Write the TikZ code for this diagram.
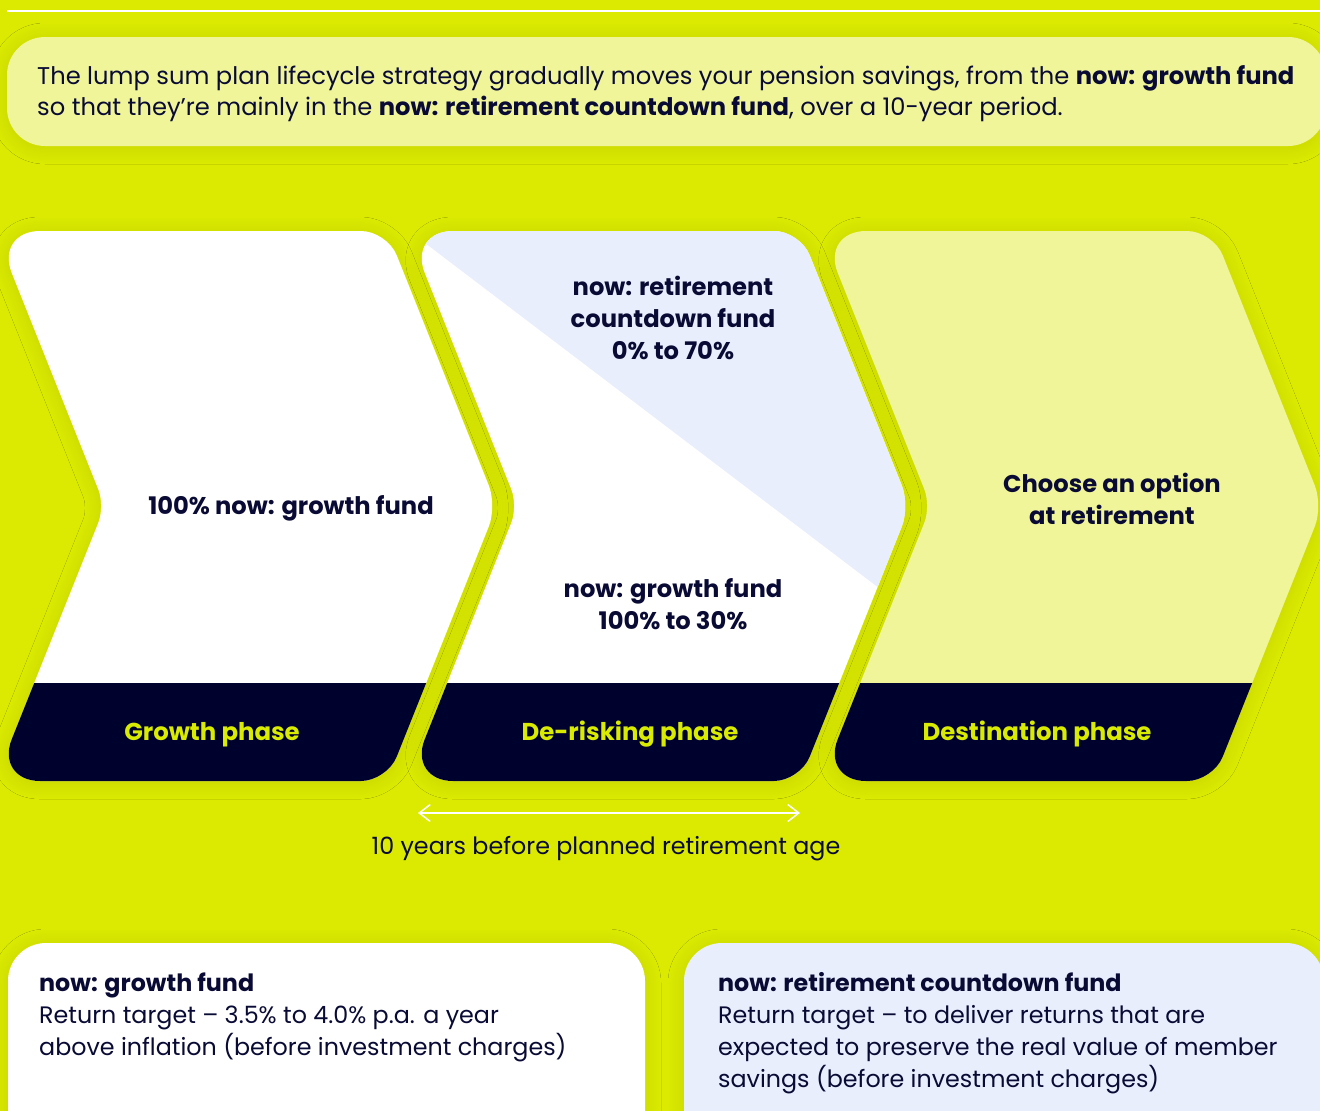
\documentclass[tikz,border=0pt]{standalone}
\usepackage{fontspec}
\setmainfont{Poppins}
\usetikzlibrary{calc,arrows.meta,shadows.blur}

\definecolor{bgLime}{HTML}{DBEA00}
\definecolor{paleLime}{HTML}{F0F599}
\definecolor{paleBlue}{HTML}{E8EEFC}
\definecolor{navy}{HTML}{00022E}
\definecolor{ink}{HTML}{0A0B35}
\definecolor{labelLime}{HTML}{D9EC00}

% corner points of one chevron: prefix, left x and right x of the top edge
\newcommand\chevcoords[3]{%
  \coordinate (#1tl) at (#2,231);
  \coordinate (#1tr) at (#3,231);
  \coordinate (#1tp) at (#3+110,506);
  \coordinate (#1br) at (#3,781);
  \coordinate (#1bl) at (#2,781);
  \coordinate (#1nt) at (#2+110,506);}

% one rounded corner: vertex, previous point, next point, radius
\newcommand\rcorner[4]{%
  -- ($(#1)!#4!(#2)$)
  .. controls ($($(#1)!#4!(#2)$)!0.55!(#1)$) and ($($(#1)!#4!(#3)$)!0.55!(#1)$)
  .. ($(#1)!#4!(#3)$)}

% outline of a chevron with individually rounded corners
\newcommand\chevpath[1]{%
  ($(#1tl)!45pt!(#1tr)$)
  \rcorner{#1tr}{#1tl}{#1tp}{26pt}
  \rcorner{#1tp}{#1tr}{#1br}{22pt}
  \rcorner{#1br}{#1tp}{#1bl}{26pt}
  \rcorner{#1bl}{#1br}{#1nt}{45pt}
  \rcorner{#1nt}{#1bl}{#1tl}{18pt}
  \rcorner{#1tl}{#1nt}{#1tr}{45pt} -- cycle}

\begin{document}
\begin{tikzpicture}[x=1pt,y=-1pt,
  softshadow/.style={blur shadow={shadow xshift=0pt,shadow yshift=-2pt,
      shadow blur radius=16pt,shadow opacity=9,shadow blur steps=30}},
  bodytext/.style={inner sep=0pt,text=ink,font=\fontsize{24.2}{30}\selectfont},
  cardtext/.style={inner sep=0pt,text=ink,font=\fontsize{23.8}{30}\selectfont},
  cardhead/.style={inner sep=0pt,text=ink,font=\fontsize{23.8}{30}\selectfont\bfseries},
  headtext/.style={inner sep=0pt,text=ink,font=\fontsize{24.2}{30}\selectfont\bfseries},
  phasetext/.style={inner sep=0pt,text=labelLime,font=\fontsize{24.4}{30}\selectfont\bfseries},
  span/.style={white,line width=1.5pt,
      {Straight Barb[length=11pt,width=17pt]}-{Straight Barb[length=11pt,width=17pt]}}]

\useasboundingbox (0,0) rectangle (1320,1111);
\clip (0,0) rectangle (1320,1111);
\fill[bgLime] (0,0) rectangle (1320,1111);
\draw[white,line width=1.2pt] (7,11) -- (1320,11);

% introduction panel
\fill[paleLime,rounded corners=38pt,softshadow] (7,37) rectangle (1326,146);
\node[bodytext,anchor=base west] (intro1) at (37,84)
  {The lump sum plan lifecycle strategy gradually moves your pension savings, from the \textbf{now: growth fund}};
\node[bodytext,anchor=base west] (intro2) at (37,115)
  {so that they’re mainly in the \textbf{now: retirement countdown fund}, over a 10-year period.};

% chevrons
\chevcoords{a}{-5}{387}
\chevcoords{b}{408}{800}
\chevcoords{c}{821}{1213}

\fill[white,softshadow] \chevpath{a};
\begin{scope}
  \clip \chevpath{a};
  \fill[navy] (-20,683) rectangle (520,800);
\end{scope}

\fill[white,softshadow] \chevpath{b};
\begin{scope}
  \clip \chevpath{b};
  \fill[paleBlue] (400,224) -- (1000,680) -- (1000,150) -- (400,150) -- cycle;
  \fill[navy] (390,683) rectangle (940,800);
\end{scope}

\fill[paleLime,softshadow] \chevpath{c};
\begin{scope}
  \clip \chevpath{c};
  \fill[navy] (800,683) rectangle (1340,800);
\end{scope}

% chevron texts
\node[headtext,anchor=base] (growthAll) at (291,514) {100\% now: growth fund};
\node[headtext,anchor=base] (rcf1) at (673,295) {now: retirement};
\node[headtext,anchor=base] (rcf2) at (673,327) {countdown fund};
\node[headtext,anchor=base] (rcf3) at (673,359) {0\% to 70\%};
\node[headtext,anchor=base] (gf1) at (673,597) {now: growth fund};
\node[headtext,anchor=base] (gf2) at (673,629) {100\% to 30\%};
\node[headtext,anchor=base] (opt1) at (1112,492) {Choose an option};
\node[headtext,anchor=base] (opt2) at (1112,524) {at retirement};

\node[phasetext,anchor=base] (phGrowth) at (212,740) {Growth phase};
\node[phasetext,anchor=base] (phDerisk) at (630,740) {De-risking phase};
\node[phasetext,anchor=base] (phDest) at (1037,740) {Destination phase};

% ten-year span
\coordinate (spanL) at (418,813);
\coordinate (spanR) at (800,813);
\draw[span] (spanL) -- (spanR);
\node[cardtext,anchor=base] (spanText) at (606,854) {10 years before planned retirement age};

% fund descriptions
\fill[white,rounded corners=38pt,softshadow] (8,943) rectangle (645,1160);
\fill[paleBlue,rounded corners=38pt,softshadow] (684,943) rectangle (1324,1160);

\node[cardhead,anchor=base west] (gfTitle) at (39,991) {now: growth fund};
\node[cardtext,anchor=base west] (gfL1) at (39,1023) {Return target – 3.5\% to 4.0\% p.a. a year};
\node[cardtext,anchor=base west] (gfL2) at (39,1055) {above inflation (before investment charges)};

\node[cardhead,anchor=base west] (rcTitle) at (718,991) {now: retirement countdown fund};
\node[cardtext,anchor=base west] (rcL1) at (718,1023) {Return target – to deliver returns that are};
\node[cardtext,anchor=base west] (rcL2) at (718,1055) {expected to preserve the real value of member};
\node[cardtext,anchor=base west] (rcL3) at (718,1087) {savings (before investment charges)};

\end{tikzpicture}
\end{document}
